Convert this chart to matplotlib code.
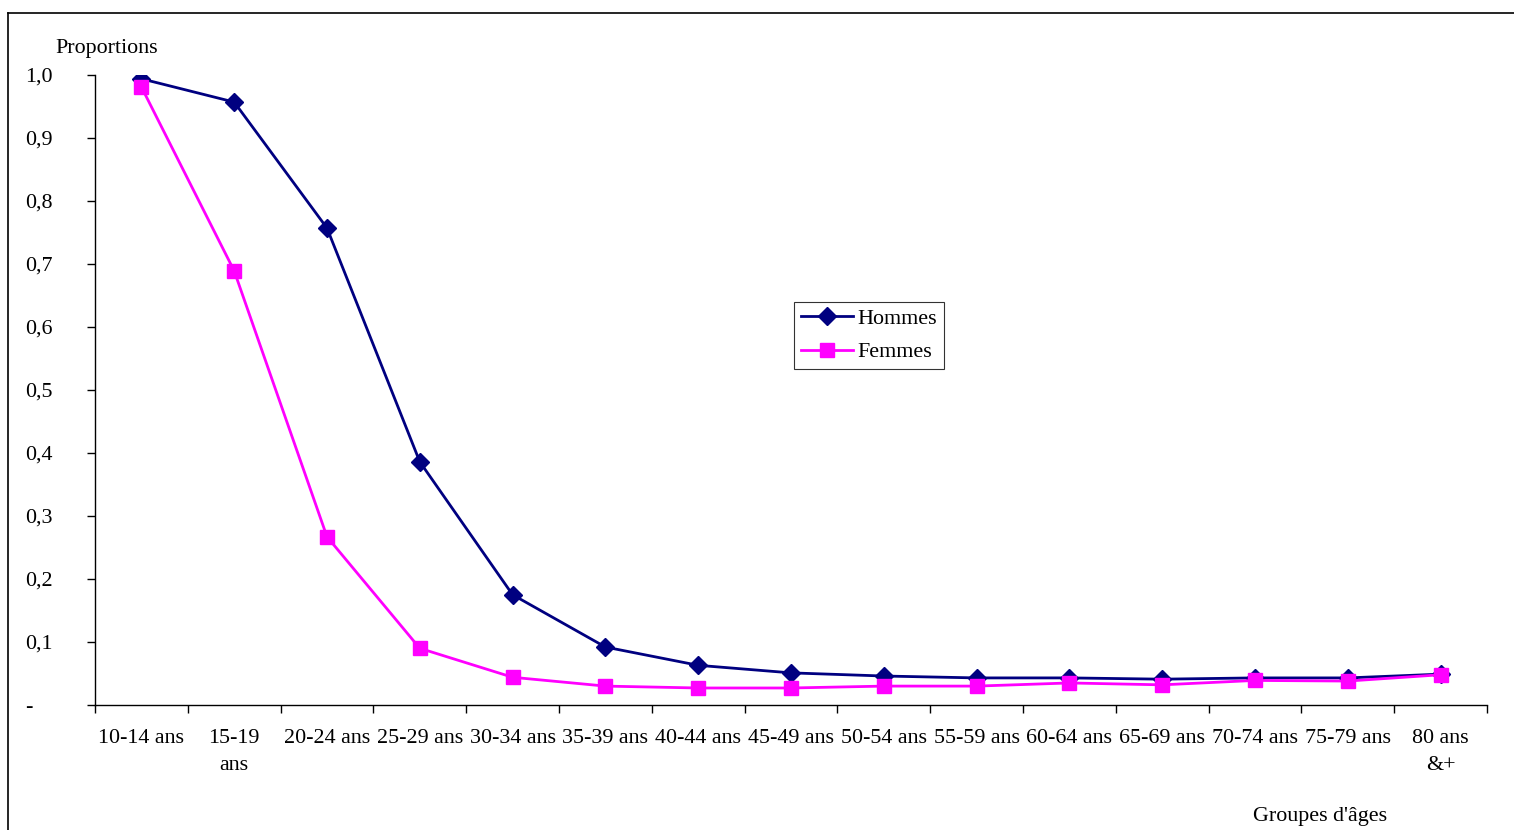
import matplotlib.pyplot as plt
from matplotlib.lines import Line2D

# age groups and proportions
groupes = ["10-14 ans", "15-19\nans", "20-24 ans", "25-29 ans", "30-34 ans",
           "35-39 ans", "40-44 ans", "45-49 ans", "50-54 ans", "55-59 ans",
           "60-64 ans", "65-69 ans", "70-74 ans", "75-79 ans", "80 ans\n&+"]
hommes = [0.994, 0.957, 0.757, 0.386, 0.175, 0.092, 0.063, 0.051, 0.046,
          0.043, 0.043, 0.041, 0.043, 0.043, 0.049]
femmes = [0.981, 0.689, 0.267, 0.090, 0.044, 0.030, 0.027, 0.027, 0.030,
          0.030, 0.035, 0.032, 0.039, 0.038, 0.048]
yticks = [0.0, 0.1, 0.2, 0.3, 0.4, 0.5, 0.6, 0.7, 0.8, 0.9, 1.0]
ylabels = ["-", "0,1", "0,2", "0,3", "0,4", "0,5", "0,6", "0,7", "0,8", "0,9", "1,0"]

plt.rcParams['font.family'] = ['Liberation Serif', 'DejaVu Serif']
fs = 15.8

W, H = 1514, 830
fig = plt.figure(figsize=(W / 100, H / 100), dpi=100)
ax = fig.add_axes([95 / W, 1 - 705 / H, (1487 - 95) / W, (705 - 75) / H])

x = list(range(len(groupes)))
ax.plot(x, hommes, color='#000080', lw=2, marker='D', ms=9, label='Hommes')
ax.plot(x, femmes, color='#FF00FF', lw=2, marker='s', ms=10.5, label='Femmes')

ax.set_xlim(-0.5, len(groupes) - 0.5)
ax.set_ylim(0, 1.0)

for s in ['top', 'right']:
    ax.spines[s].set_visible(False)
for s in ['left', 'bottom']:
    ax.spines[s].set_linewidth(1.0)

# ticks at category boundaries, labels at centers
ax.set_xticks([i - 0.5 for i in range(len(groupes) + 1)])
ax.set_xticklabels([])
ax.set_xticks(x, minor=True)
ax.set_xticklabels(groupes, minor=True, fontsize=fs, linespacing=1.6)
ax.tick_params(axis='x', which='major', direction='out', length=6, width=1)
ax.tick_params(axis='x', which='minor', length=0, pad=17)

ax.set_yticks(yticks)
ax.set_yticklabels(ylabels, fontsize=fs)
ax.tick_params(axis='y', direction='out', length=6, width=1, pad=44)
for lab in ax.get_yticklabels():
    lab.set_horizontalalignment('left')

fig.text(55 / W, 1 - 48 / H, "Proportions", fontsize=fs, ha='left', va='center')
fig.text(1320 / W, 1 - 816 / H, "Groupes d'âges", fontsize=fs, ha='center', va='center')

leg = ax.legend(loc='upper left', bbox_to_anchor=(794 / W, 1 - 302 / H),
                bbox_transform=fig.transFigure, fontsize=fs, frameon=True,
                fancybox=False, edgecolor='black', handlelength=2.4,
                borderpad=0.3, labelspacing=0.6, handletextpad=0.2,
                borderaxespad=0)
leg.get_frame().set_linewidth(0.8)

# outer chart frame
fig.add_artist(Line2D([8 / W, 1], [1 - 13 / H, 1 - 13 / H], color='black', lw=1.2))
fig.add_artist(Line2D([8 / W, 8 / W], [1 - 13 / H, 0], color='black', lw=1.2))

fig.savefig('out.png', dpi=100)
